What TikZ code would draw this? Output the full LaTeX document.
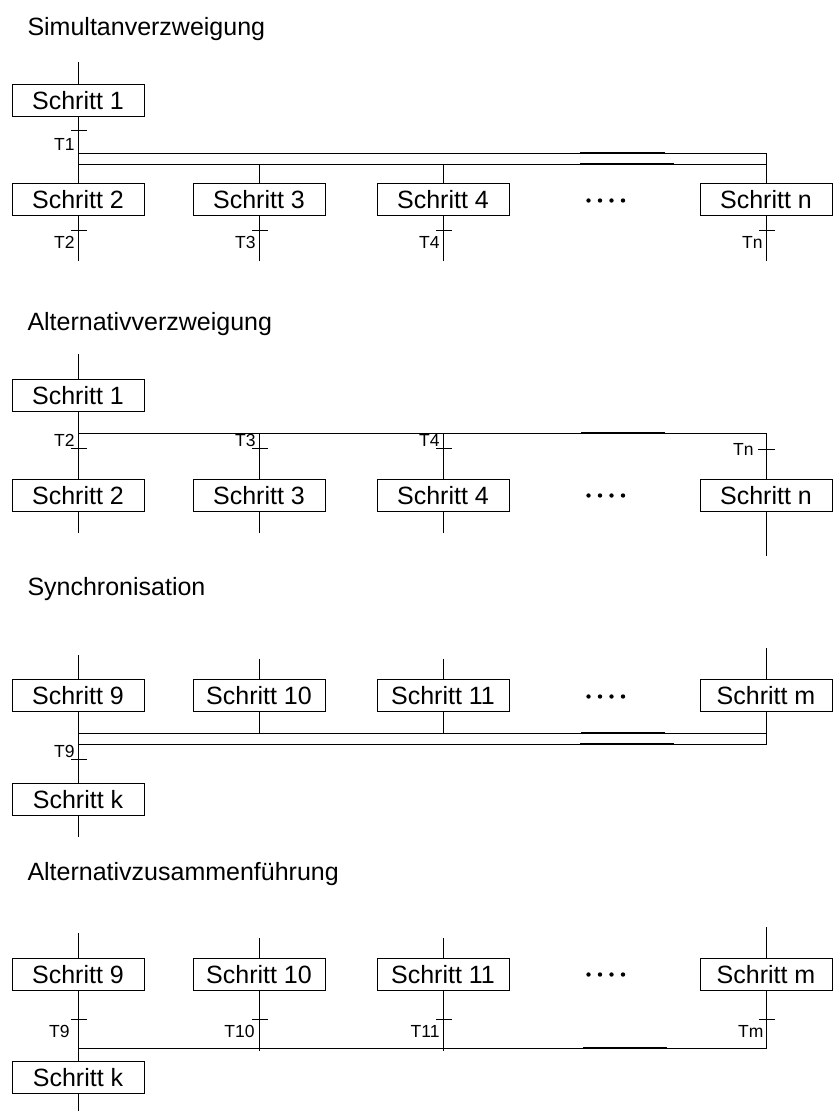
\documentclass[tikz,border=0pt]{standalone}
\usepackage{fontspec}
\setmainfont{Liberation Sans}
\begin{document}
\begin{tikzpicture}[x=1pt,y=-1pt,line width=1pt,
  stepbox/.style={draw, line width=1pt, minimum width=132pt, minimum height=32pt,
    inner sep=0pt, text height=18pt, text depth=0pt, font=\fontsize{25}{30}\selectfont},
  heading/.style={anchor=base west, inner sep=0pt, font=\fontsize{25}{30}\selectfont},
  tlabel/.style={anchor=base east, inner sep=0pt, font=\fontsize{17.5}{20}\selectfont},
  overlap/.style={line width=1.25pt},
  dot/.style={fill=black, draw=none}]
\useasboundingbox (0,0) rectangle (835,1111);

% transition bar across a vertical link
\newcommand\transbar[1]{\draw (#1) ++(-7,0) -- ++(16,0);}
% continuation dots between the last two steps
\newcommand\stepdots[1]{\foreach \dx in {588.5,600,611.5,623} \fill[dot] (\dx,#1) circle (2.2);}

% ---------------- Simultanverzweigung ----------------
\node[heading] (h1) at (27,35) {Simultanverzweigung};
\node[stepbox] (a1) at (78,100) {Schritt 1};
\node[stepbox] (a2) at (78,199.5) {Schritt 2};
\node[stepbox] (a3) at (259,199.5) {Schritt 3};
\node[stepbox] (a4) at (443,199.5) {Schritt 4};
\node[stepbox] (an) at (766,199.5) {Schritt n};
\coordinate (a0) at (78,62);
\coordinate (aT) at (78,130);
\coordinate (aU) at (78,153);
\coordinate (aW) at (78,164);
\coordinate (aE) at (766,164);
\draw (a0) -- (a1);
\draw (a1) -- (aU);
\draw (aU) rectangle (aE);
\draw (aW) -- (a2);
\draw (a3 |- aW) -- (a3);
\draw (a4 |- aW) -- (a4);
\draw (an |- aW) -- (an);
\draw[overlap] (580,153) -- (665,153);
\draw[overlap] (580,164) -- (674,164);
\transbar{aT}
\node[tlabel] (t1) at (75,150) {T1};
\foreach \s/\x/\lab in {a2/78/T2, a3/259/T3, a4/443/T4, an/766/Tn} {
  \coordinate (\s e) at (\x,261);
  \draw (\s) -- (\s e);
  \transbar{\x,230}
  \node[tlabel] (l\s) at (\x-3,248) {\lab};
}
\stepdots{200.5}

% ---------------- Alternativverzweigung ----------------
\node[heading] (h2) at (27,330) {Alternativverzweigung};
\node[stepbox] (b1) at (78,395.5) {Schritt 1};
\node[stepbox] (b2) at (78,495.5) {Schritt 2};
\node[stepbox] (b3) at (259,495.5) {Schritt 3};
\node[stepbox] (b4) at (443,495.5) {Schritt 4};
\node[stepbox] (bn) at (766,495.5) {Schritt n};
\coordinate (b0) at (78,354);
\coordinate (bW) at (78,433);
\coordinate (bE) at (766,433);
\draw (b0) -- (b1);
\draw (b1) -- (b2);
\draw (bW) -- (bE);
\draw (b3 |- bW) -- (b3);
\draw (b4 |- bW) -- (b4);
\draw (bn |- bW) -- (bn);
\draw[overlap] (581,433) -- (665,433);
\foreach \s/\x/\lab in {b2/78/T2, b3/259/T3, b4/443/T4} {
  \transbar{\x,448}
  \node[tlabel] (l\s) at (\x-3,446) {\lab};
}
\draw (758,449) -- (775,449);
\node[tlabel] (lbn) at (754,455.5) {Tn};
\foreach \s/\x/\y in {b2/78/533, b3/259/533, b4/443/533, bn/766/556} {
  \coordinate (\s e) at (\x,\y);
  \draw (\s) -- (\s e);
}
\stepdots{495.5}

% ---------------- Synchronisation ----------------
\node[heading] (h3) at (27,595) {Synchronisation};
\node[stepbox] (c1) at (78,695.5) {Schritt 9};
\node[stepbox] (c2) at (259,695.5) {Schritt 10};
\node[stepbox] (c3) at (443,695.5) {Schritt 11};
\node[stepbox] (cm) at (766,695.5) {Schritt m};
\node[stepbox] (ck) at (78,799) {Schritt k};
\foreach \s/\x/\y in {c1/78/655, c2/259/659, c3/443/659, cm/766/648} {
  \coordinate (\s s) at (\x,\y);
  \draw (\s s) -- (\s);
}
\coordinate (cU) at (78,733);
\coordinate (cE) at (766,744);
\draw (cU) rectangle (cE);
\draw (c1) -- (ck);
\draw (c2) -- (c2 |- cU);
\draw (c3) -- (c3 |- cU);
\draw (cm) -- (cm |- cU);
\draw[overlap] (581,733) -- (665,733);
\draw[overlap] (580,744) -- (674,744);
\transbar{78,759}
\node[tlabel] (lc) at (75,757) {T9};
\coordinate (cke) at (78,837);
\draw (ck) -- (cke);
\stepdots{696.5}

% ---------------- Alternativzusammenführung ----------------
\node[heading] (h4) at (27,880) {Alternativzusammenführung};
\node[stepbox] (d1) at (78,974) {Schritt 9};
\node[stepbox] (d2) at (259,974) {Schritt 10};
\node[stepbox] (d3) at (443,974) {Schritt 11};
\node[stepbox] (dm) at (766,974) {Schritt m};
\node[stepbox] (dk) at (78,1077.5) {Schritt k};
\foreach \s/\x/\y in {d1/78/933, d2/259/938, d3/443/938, dm/766/927} {
  \coordinate (\s s) at (\x,\y);
  \draw (\s s) -- (\s);
  \transbar{\x,1019}
}
\coordinate (dW) at (78,1048);
\coordinate (dE) at (766,1048);
\draw (d1) -- (dk);
\draw (dW) -- (dE);
\draw (d2) -- (259,1051);
\draw (d3) -- (443,1051);
\draw (dm) -- (766,1049);
\draw[overlap] (583,1048) -- (667,1048);
\node[tlabel] (ld1) at (70,1037) {T9};
\node[tlabel] (ld2) at (255,1037) {T10};
\node[tlabel] (ld3) at (440,1037) {T11};
\node[tlabel] (ldm) at (764,1037) {Tm};
\coordinate (dke) at (78,1111);
\draw (dk) -- (dke);
\stepdots{974.5}
\end{tikzpicture}
\end{document}
